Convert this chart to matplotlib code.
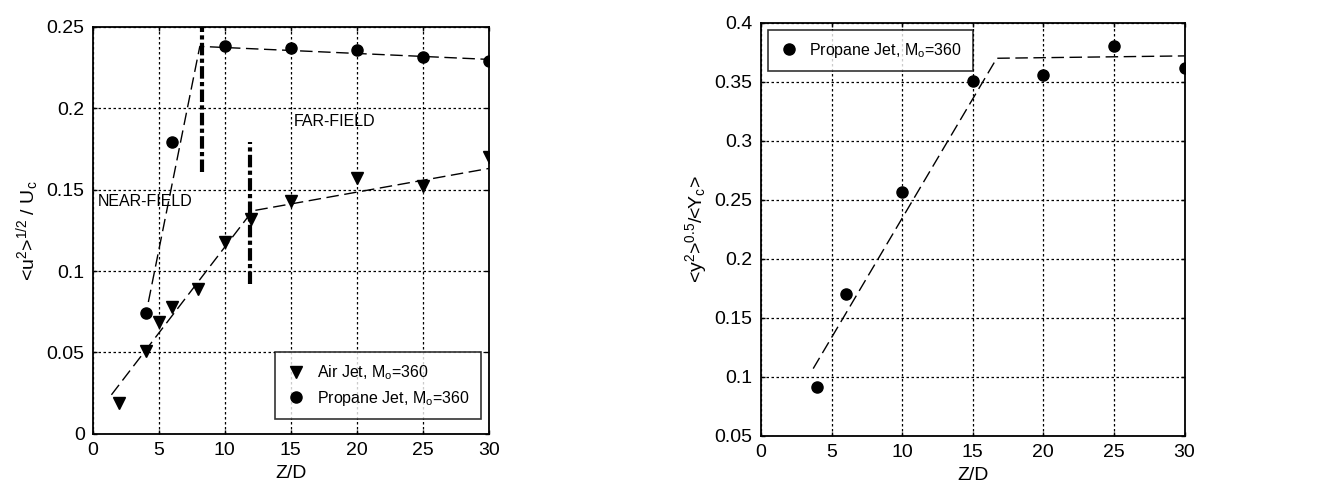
import matplotlib
matplotlib.use("Agg")
import matplotlib.pyplot as plt
import numpy as np

plt.rcParams['font.family'] = ['Liberation Sans', 'DejaVu Sans']
plt.rcParams['mathtext.fontset'] = 'custom'
plt.rcParams['mathtext.rm'] = 'Liberation Sans'
plt.rcParams['mathtext.it'] = 'Liberation Sans'

# left panel data
air_z = [2, 4, 5, 6, 8, 10, 12, 15, 20, 25, 30]
air_u = [0.019, 0.051, 0.069, 0.078, 0.089, 0.118, 0.132, 0.143, 0.157, 0.152, 0.170]
prop_z = [4, 6, 10, 15, 20, 25, 30]
prop_u = [0.0745, 0.179, 0.238, 0.2367, 0.2355, 0.2314, 0.229]
# fitted (dashed) lines
prop_fit_z = [4.2, 8.1, 30]
prop_fit_u = [0.081, 0.238, 0.230]
air_fit_z = [1.4, 12.1, 30]
air_fit_u = [0.024, 0.137, 0.163]
# near/far boundaries
bound_z = [8.25, 11.9]
bound_lo = [0.161, 0.092]
bound_hi = [0.25, 0.179]

# right panel data
r_z = [4, 6, 10, 15, 20, 25, 30]
r_y = [0.091, 0.170, 0.257, 0.351, 0.356, 0.380, 0.362]
r_fit_z = [3.7, 16.7, 30]
r_fit_y = [0.107, 0.370, 0.372]

fig = plt.figure(figsize=(13.28, 4.97), dpi=100)
ax1 = fig.add_axes([0.070, 0.127, 0.298, 0.819])
ax2 = fig.add_axes([0.573, 0.123, 0.319, 0.831])

fs = 14
for ax in (ax1, ax2):
    ax.grid(True, color='black', linestyle=(0, (2, 2)), linewidth=0.9)
    ax.set_axisbelow(True)
    ax.tick_params(direction='in', labelsize=fs, length=3, width=1, top=True, right=True, pad=6)
    for s in ax.spines.values():
        s.set_linewidth(1.3)
    ax.set_xlim(0, 30)
    ax.set_xticks([0, 5, 10, 15, 20, 25, 30])
    ax.set_xlabel('Z/D', fontsize=fs, labelpad=4)

legkw = dict(fontsize=11.5, frameon=True, fancybox=False, edgecolor='black',
             handlelength=1.2, handletextpad=0.7, borderpad=0.7, labelspacing=0.4,
             borderaxespad=0)

# left
ax1.plot(prop_fit_z, prop_fit_u, color='black', lw=1, dashes=(9, 4))
ax1.plot(air_fit_z, air_fit_u, color='black', lw=1, dashes=(9, 4))
for z, lo, hi in zip(bound_z, bound_lo, bound_hi):
    ax1.plot([z, z], [lo, hi], color='black', lw=3, dashes=(3, 0.8, 1, 0.8))
ax1.plot(air_z, air_u, 'v', color='black', markersize=9, label='Air Jet, M$_{\\rm o}$=360')
ax1.plot(prop_z, prop_u, 'o', color='black', markersize=8, label='Propane Jet, M$_{\\rm o}$=360')
ax1.set_ylim(0, 0.25)
ax1.set_yticks([0, 0.05, 0.1, 0.15, 0.2, 0.25])
ax1.set_yticklabels(['0', '0.05', '0.1', '0.15', '0.2', '0.25'])
ax1.set_ylabel('<u$^2$>$^{1/2}$ / U$_{\\rm c}$', fontsize=fs, labelpad=4)
ax1.text(15.2, 0.192, 'FAR-FIELD', fontsize=11.5, ha='left', va='center')
ax1.text(0.4, 0.143, 'NEAR-FIELD', fontsize=11.5, ha='left', va='center')
leg1 = ax1.legend(loc='lower right', bbox_to_anchor=(0.98, 0.037), **legkw)
leg1.get_frame().set_linewidth(1.2)

# right
ax2.plot(r_fit_z, r_fit_y, color='black', lw=1, dashes=(9, 4))
ax2.plot(r_z, r_y, 'o', color='black', markersize=8, label='Propane Jet, M$_{\\rm o}$=360')
ax2.set_ylim(0.05, 0.4)
ax2.set_yticks([0.05, 0.1, 0.15, 0.2, 0.25, 0.3, 0.35, 0.4])
ax2.set_yticklabels(['0.05', '0.1', '0.15', '0.2', '0.25', '0.3', '0.35', '0.4'])
ax2.set_ylabel('<y$^2$>$^{0.5}$/<Y$_{\\rm c}$>', fontsize=fs, labelpad=4)
leg2 = ax2.legend(loc='upper left', bbox_to_anchor=(0.0165, 0.983), **legkw)
leg2.get_frame().set_linewidth(1.2)

fig.savefig('out.png', dpi=100)
